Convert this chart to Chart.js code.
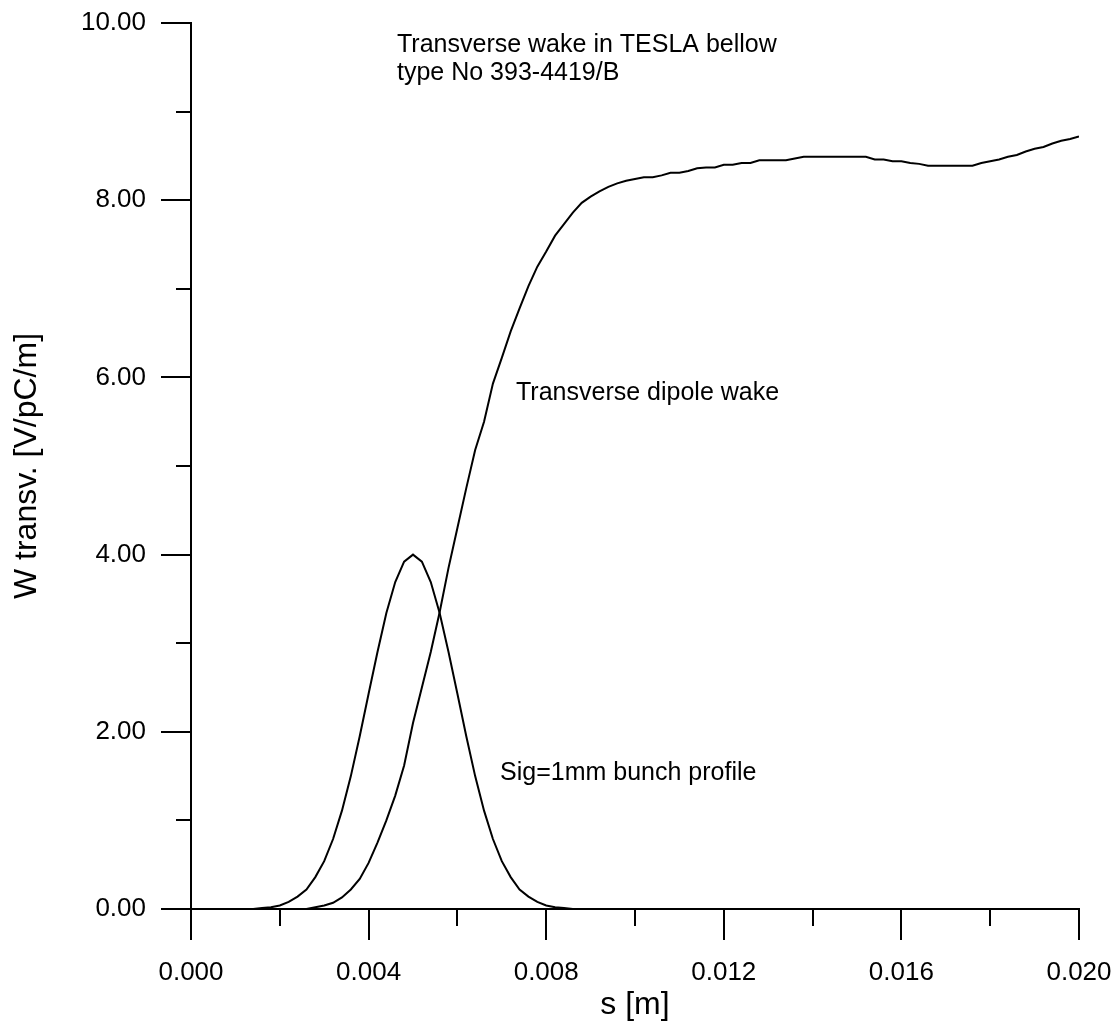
<!DOCTYPE html>
<html>
<head>
<meta charset="utf-8">
<script src="https://cdn.jsdelivr.net/npm/chart.js@4.4.1/dist/chart.umd.min.js"></script>
<style>
html,body{margin:0;padding:0;background:#fff;}
#wrap{width:1120px;height:1028px;position:relative;}
</style>
</head>
<body>
<div id="wrap"><canvas id="c"></canvas></div>
<script>
// ---- data ----
const sValues = [
  0.0000,0.0002,0.0004,0.0006,0.0008,0.0010,0.0012,0.0014,0.0016,0.0018,
  0.0020,0.0022,0.0024,0.0026,0.0028,0.0030,0.0032,0.0034,0.0036,0.0038,
  0.0040,0.0042,0.0044,0.0046,0.0048,0.0050,0.0052,0.0054,0.0056,0.0058,
  0.0060,0.0062,0.0064,0.0066,0.0068,0.0070,0.0072,0.0074,0.0076,0.0078,
  0.0080,0.0082,0.0084,0.0086,0.0088,0.0090,0.0092,0.0094,0.0096,0.0098,
  0.0100,0.0102,0.0104,0.0106,0.0108,0.0110,0.0112,0.0114,0.0116,0.0118,
  0.0120,0.0122,0.0124,0.0126,0.0128,0.0130,0.0132,0.0134,0.0136,0.0138,
  0.0140,0.0142,0.0144,0.0146,0.0148,0.0150,0.0152,0.0154,0.0156,0.0158,
  0.0160,0.0162,0.0164,0.0166,0.0168,0.0170,0.0172,0.0174,0.0176,0.0178,
  0.0180,0.0182,0.0184,0.0186,0.0188,0.0190,0.0192,0.0194,0.0196,0.0198,
  0.0200
];
const dipoleWake = [
  0,0,0,0,0,0,0,0,0,0,
  0,0,0,0,0.02,0.04,0.07,0.13,0.22,0.34,
  0.52,0.75,1.00,1.28,1.62,2.10,2.50,2.90,3.35,3.85,
  4.30,4.75,5.18,5.50,5.93,6.22,6.52,6.78,7.03,7.25,
  7.42,7.60,7.73,7.86,7.97,8.04,8.10,8.15,8.19,8.22,
  8.24,8.26,8.26,8.28,8.31,8.31,8.33,8.36,8.37,8.37,
  8.40,8.40,8.42,8.42,8.45,8.45,8.45,8.45,8.47,8.49,
  8.49,8.49,8.49,8.49,8.49,8.49,8.49,8.46,8.46,8.44,
  8.44,8.42,8.41,8.39,8.39,8.39,8.39,8.39,8.39,8.42,
  8.44,8.46,8.49,8.51,8.55,8.58,8.60,8.64,8.67,8.69,
  8.72
];
const bunchProfile = [
  0,0,0,0,0,0,0,0,0.01,0.02,
  0.04,0.08,0.14,0.22,0.36,0.54,0.79,1.11,1.50,1.95,
  2.43,2.90,3.34,3.69,3.92,4.00,3.92,3.69,3.34,2.90,
  2.43,1.95,1.50,1.11,0.79,0.54,0.36,0.22,0.14,0.08,
  0.04,0.02,0.01,0,0,0,0,0,0,0,
  0,0,0,0,0,0,0,0,0,0,
  0,0,0,0,0,0,0,0,0,0,
  0,0,0,0,0,0,0,0,0,0,
  0,0,0,0,0,0,0,0,0,0,
  0,0,0,0,0,0,0,0,0,0,
  0
];
const xTickLabels = ['0.000','0.004','0.008','0.012','0.016','0.020'];
const yTickLabels = ['0.00','2.00','4.00','6.00','8.00','10.00'];
const xTitle = 's [m]';
const yTitle = 'W transv. [V/pC/m]';
const notes = [
  {text:'Transverse wake in TESLA bellow', s:0.00464, w:9.676},
  {text:'type No 393-4419/B', s:0.00464, w:9.357},
  {text:'Transverse dipole wake', s:0.00732, w:5.745},
  {text:'Sig=1mm bunch profile', s:0.00696, w:1.456}
];

const FONT = '"Liberation Sans", Arial, Helvetica, sans-serif';

const ticksPlugin = {
  id:'ticksAndNotes',
  afterDraw(chart){
    const ctx = chart.ctx;
    const xs = chart.scales.x, ys = chart.scales.y;
    ctx.save();
    ctx.strokeStyle = '#000';
    ctx.lineWidth = 2;
    ctx.beginPath();
    xs.ticks.forEach(t=>{
      const px = Math.round(xs.getPixelForValue(t.value));
      const major = Math.round(t.value/0.002)%2===0;
      const len = major?31:17;
      ctx.moveTo(px, xs.top); ctx.lineTo(px, xs.top+len);
    });
    ys.ticks.forEach(t=>{
      const py = Math.round(ys.getPixelForValue(t.value));
      const major = Math.round(t.value)%2===0;
      const len = major?30:15;
      ctx.moveTo(ys.right, py); ctx.lineTo(ys.right-len, py);
    });
    ctx.stroke();
    ctx.fillStyle = '#000';
    ctx.font = '25px ' + FONT;
    ctx.textAlign = 'left';
    ctx.textBaseline = 'alphabetic';
    notes.forEach(n=>{
      ctx.fillText(n.text, xs.getPixelForValue(n.s), ys.getPixelForValue(n.w));
    });
    ctx.restore();
  }
};

new Chart(document.getElementById('c'), {
  type:'line',
  data:{
    datasets:[
      {label:'Transverse dipole wake', data:sValues.map((s,i)=>({x:s,y:dipoleWake[i]})),
       borderColor:'#000', borderWidth:2, pointRadius:0, tension:0, fill:false},
      {label:'Sig=1mm bunch profile', data:sValues.map((s,i)=>({x:s,y:bunchProfile[i]})),
       borderColor:'#000', borderWidth:2, pointRadius:0, tension:0, fill:false}
    ]
  },
  options:{
    responsive:true, maintainAspectRatio:false, animation:false,
    layout:{padding:{top:23,right:41,bottom:0,left:0}},
    plugins:{legend:{display:false}, tooltip:{enabled:false}},
    scales:{
      x:{type:'linear', min:0, max:0.02,
        afterFit(s){ s.height = 119; s.paddingLeft = 0; s.paddingRight = 0; s.paddingTop = 0; s.paddingBottom = 0; },
        afterBuildTicks(s){ s.ticks = sValues.filter((v,i)=>i%10===0).map(v=>({value:v})); },
        grid:{drawOnChartArea:false, drawTicks:true, tickLength:30, color:'rgba(0,0,0,0)'},
        border:{display:true, color:'#000', width:2},
        ticks:{color:'#000', padding:18, maxRotation:0, autoSkip:false,
          font:{family:FONT, size:26},
          callback(v){ const k=Math.round(v/0.002); return k%2===0 ? xTickLabels[k/2] : ''; }},
        title:{display:true, text:xTitle, color:'#000', font:{family:FONT, size:32}, padding:{top:0,bottom:4}}
      },
      y:{type:'linear', min:0, max:10,
        afterFit(s){ s.width = 191; s.paddingLeft = 0; s.paddingRight = 0; s.paddingTop = 0; s.paddingBottom = 0; },
        grid:{drawOnChartArea:false, drawTicks:true, tickLength:30, color:'rgba(0,0,0,0)'},
        border:{display:true, color:'#000', width:2},
        ticks:{color:'#000', padding:15, stepSize:1, autoSkip:false,
          font:{family:FONT, size:26},
          callback(v){ const k=Math.round(v); return k%2===0 ? yTickLabels[k/2] : ''; }},
        title:{display:true, text:yTitle, color:'#000', font:{family:FONT, size:32}, padding:{top:8,bottom:0}}
      }
    }
  },
  plugins:[ticksPlugin]
});
</script>
</body>
</html>
